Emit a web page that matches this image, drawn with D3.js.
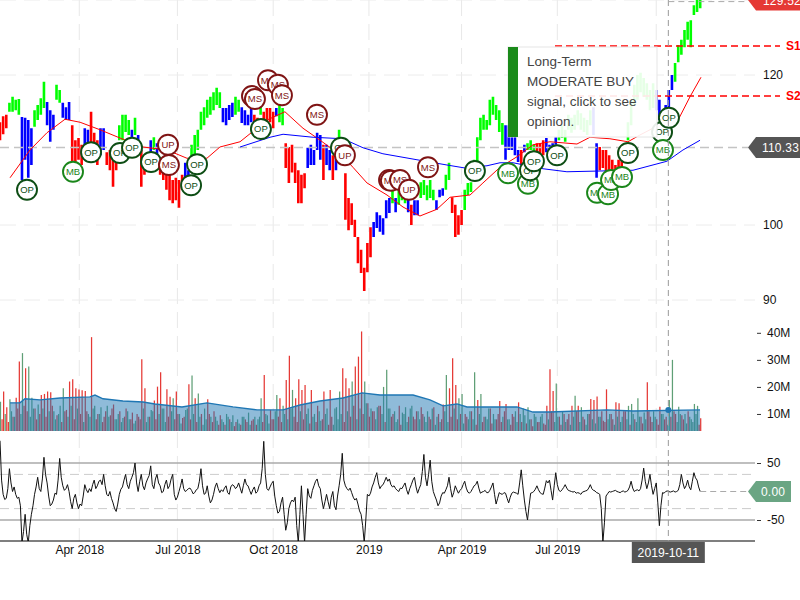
<!DOCTYPE html>
<html><head><meta charset="utf-8">
<script src="https://cdn.jsdelivr.net/npm/d3@7"></script>
<style>html,body{margin:0;padding:0;background:#fff}svg{display:block}text{font-family:"Liberation Sans",Arial,sans-serif}</style>
</head><body><svg id="c" width="800" height="600"></svg>
<script>
const priceHigh=[113.7,114.5,114.7,116.3,117.1,116.7,116.8,114.4,114.3,114,
112.9,115.3,116,116.9,119.1,116.4,115.3,114.7,118.7,118,
116.3,115.7,116.4,113.3,111.3,111.6,110.7,112.9,112.7,115.1,
112.3,111.3,112.9,112.9,109.7,110,110,110,113.3,114.7,
114.7,114,112.7,114.3,112,110,109.3,108.9,111.3,111.7,
110.9,108.7,108,107.3,106.7,106,106.3,106,106.7,108.3,
107.3,110.7,112,112.7,115.1,115.7,116.7,117.1,117.7,118.3,
117.7,115.6,115.6,116,116.3,117.1,116.7,115.7,115.3,114.7,
115.6,114.7,114.3,116,115.1,115.6,115.6,115.1,115.6,116,
115.6,110.9,110.4,110.7,108.3,107.3,106.7,106.9,110.3,110.7,
110,112.3,112,110.7,110.7,110,109.3,110,112.7,110,
106.9,103.6,102.9,100.7,98.4,96.7,94.3,97.6,99.7,100.4,
101.7,101.3,100.9,103.3,103.6,104.7,103.6,104.7,104.9,104.4,
103.7,102.7,103.3,103.3,105.7,106,105.3,106,104.7,103.3,
104.7,104.9,106.7,108.3,103.7,102.7,101.3,102,104.7,105.6,
105.7,108.7,111.7,114.3,114.7,114,116.7,117.1,116,115.3,
113.6,113.3,113.3,112.3,112,110,110,110.7,110.9,111.3,
110.7,110.9,110.9,111.3,111.6,110.7,110.9,111.7,112.7,113.3,
112.7,114.7,114.3,114.7,115.3,114.9,114.3,114,115.3,115.7,
110.9,110.4,110,110,109.3,108.7,108,108.7,108.7,110,
113.7,116.7,118.7,120,120.3,119.6,118.9,118,118.9,118,
116.7,114,116,118,120,121.6,124,124.7,126,127.1,
127.3,129.3,130,130];
const priceLow=[111.3,112.1,112.9,115.1,115.1,115.3,114.7,106,108.7,106.3,
108,113.1,114,114.7,115.6,113.3,111.1,112.7,116.7,116.3,
114.3,114,114,108,107.6,108.7,108,110,109.7,110.7,
110,108,109.3,110,108,107.3,105.1,107.3,111.3,111.3,
112.4,112,110,112,110,105.1,106.7,107.3,109.3,110,
109.3,106.7,106,104.7,103.3,102.9,103.3,102.3,104.7,105.1,
105.3,108.7,109.3,110,112.7,113.3,114.3,114.7,115.3,116,
115.6,113.7,113.3,114,114.4,114.7,115.1,113.6,113.3,113.3,
113.7,113.3,112.7,114.7,112.7,113.3,113.7,112.9,114.5,113.7,
113.3,107.6,105.6,107,105.6,102.9,102.9,104.9,107.6,108,
108,110,108.7,106,108,107.3,106,107.3,111.3,108,
100.7,99.3,100,98.4,94.9,93.6,91.2,93.7,95.7,98.4,
99.6,99.1,98.7,100.9,101.6,102.9,101.7,102.7,103.3,102.9,
101.7,100,101.3,101.3,103.6,104,103.3,103.6,103.3,102,
103.7,103.9,104.7,106,101.6,98.4,98.7,100,102,104,
104.4,106,107.3,111.3,112.7,112.7,113.3,114.7,114,112.4,
110.7,108.7,110,110,109.3,108.4,108,109.7,110,110,
108.9,109.3,109.3,109.3,109.7,109.3,110,110.7,111.3,111.6,
111.1,112.7,112.3,112.7,113.3,112.7,112.4,112,113.3,112,
106.3,107.3,107.6,106.3,106.7,106,105.6,106.7,107.6,108.9,
111.3,113.3,116,116.7,117.7,117.1,116.7,115.3,115.6,115.3,
114,112.7,113.3,115.7,118,119.1,121.7,122.7,123.7,124.7,
123.7,128,128.4,128.9];
const priceTrend=("rrrggggbbbbggggbbbggbbbrrrrbbrrrbbrrrrggggbgbrrrbgbrrrrrrrrbbggggggggg"+
"gbbbbggbbbbrrgrrrrbggrrrrrrrbbbbbrbbrbgrrrrrrrrrrbbbbbbgbgggbrbbgggggb"+
"bbggrrrrgggggggggggggbbbbbrbgggrrrbbbbgggggggggggbbrrrrrrrrbgggggggggbb"+
"gbbbggggggggggg").split("");
const volumeEven=[14.5,18.3,12.5,15.4,9,16,29.4,32.5,26.9,27.5,
16,12,13.5,17,17.4,18.3,18,11,9.5,13,
19.5,11.5,22,22.8,19.5,19,18.8,18.5,10,38.4,
13,10,12.5,9,13,9.5,13.5,8,11,8.5,
12,8,10.5,7.5,9,30.2,19.5,9,11.5,15,
20.1,25.4,12,19.1,16.4,15.8,18.3,10,8.5,11.5,
21,24.2,15.8,17.6,10,12,15.4,9,11,7.5,
9.5,7,10,8,9.5,7,6.5,9,8,10.5,
7.5,9,8,15.8,24.4,9.5,11.5,8,17,15.8,
13,22.6,31.5,18.9,15.8,22.8,18.9,20.7,12,18.9,
10,13,7.5,18.3,12,18.9,6,12.5,18.3,26.9,
23.2,19.5,22,27.5,31.2,40.5,22,14,12,11,
12.5,13,20,26.3,12,10,7,13,10.5,12.5,
9,13,8,11,12.5,9,11,8,12.5,9,
7,13.5,24.4,19.5,30.6,20.7,15.8,17.4,10,8,
11,25.4,15.2,17.4,9,8,12,10,8,14.8,
9,13.7,8,10,11,14.3,7,9.5,12.5,8,
10,7,9,6.5,13,26.5,18.5,21.3,9,11,
7,10,13,16.7,13,12.5,8,10,15.5,15.2,
16.5,9,7.5,19.1,10,8,14.3,14,9,11,
13,13.7,8,15.8,9,10.5,21.7,9,11,8,
12.7,10,9,15.2,30,10,12.7,9.5,10,11,
8,13.7,13,8.4];
const volumeEvenDir=("grrgrrrgrg"+"grgrrrrgrg"+"grrrrrrrgr"+"grgrgrrgrg"+"rgrgrrrggr"+"rrgrrgrgrg"+"rgrgrgrgrg"+"rggrgrggrg"+
"rgggrgrrgr"+"grrgrrrrgr"+"grgrgrgggr"+"rrgrrrgrgr"+"grgggrgrgg"+"rgrgrggrrg"+"grgrrrggrg"+"rgrgrgrgrr"+
"grgrgrrggr"+"grgrrrrgrg"+"grrgrgrgrr"+"rgrrgrrrgr"+"ggrgrgrrgr"+"rgrggrgrgr"+"gggr").split("");
const volumeOdd=[8,10,7,11,9,12,10,13,11,9,
12,8,10,12,9,11,13,8,10,7,
11,9,13,8,12,10,7,11,9,12,
8,10,7,11,9,12,8,10,7,9,
11,8,6.5,10,8,12,7,9,11,8,
10,12,7,9,11,8,10,6.5,9,12,
8,10,7,9,6,8,10,7,9,6,
8,6,9,7,5.5,8,6,9,7,6,
8,6,9,7,10,6.5,8,11,9,7,
10,8,12,9,7,11,8,10,6.5,9,
7,11,8,10,6,9,12,8,10,7,
11,9,13,8,12,10,14,9,11,8,
13,10,7,12,9,11,8,6,10,7,
12,9,11,8,10,7,9,12,6,10,
8,11,7,9,12,8,10,6.5,9,11,
8,6,10,7,9,12,6.5,8,10,7,
11,8,6,9,7,10,12,6.5,8,5.5,
9,7,10,6,8,11,7,9,6,10,
8,6,9,11,7,9,6,10,8,6.5,
9,11,7,8,10,6,9,7,11,8,
6,10,7,9,6.5,8,11,7,9,6,
10,8,6,9,11,7,10,8,6.5,9,
7,10,6];
const volumeOddDir=("rgrggrgrrg"+"grrgrgrggr"+"rggrgrgrgg"+"rgrrgrgggr"+"grgrrggrgr"+"gggrgrrgrg"+"rgrgggrrgr"+"grggrgrgrg"+
"rrgrggrgrr"+"gggrrgrgrg"+"rgrgrrgggr"+"grrggrgrrg"+"rgrgrggrgg"+"grrgrgrggr"+"rggrgrrgrg"+"grgrggrgrr"+
"rgrrgggrgr"+"grgrgrggrr"+"rggrgrgrgg"+"grrgrgggrg"+"rgggrgrrgr"+"grgrrggrgg"+"ggr").split("");
const oscEven=[89,-5,-12,40,0,-5,-10,-90,-40,-90,
-40,-5,25,0,60,15,-25,-15,-5,58,
10,5,0,-30,-5,-30,-25,12,-2,0,
20,10,20,30,-5,0,-20,-35,-5,8,
30,5,25,50,0,30,3,22,45,5,
30,10,0,20,10,30,-15,0,22,0,
5,2,-2,5,40,-5,10,-20,-5,15,
-2,0,10,-5,12,5,15,-3,22,10,
-5,8,0,15,88,5,8,18,-25,-35,
-10,-68,-30,-15,-10,-90,10,-90,5,-12,
10,22,5,-30,-5,-30,0,-32,10,67,
10,2,-2,-15,-22,-40,-90,-5,-3,15,
33,5,12,25,22,8,5,0,5,15,
-5,12,25,-3,12,65,10,55,0,-15,
-20,-2,3,25,-10,10,-3,5,18,-1,
0,10,18,-3,0,-2,2,15,-22,-2,
-5,-3,-20,-3,-2,-5,38,-15,-50,-3,
0,10,-2,-5,19,20,-15,33,2,3,
12,2,0,0,-2,-5,0,2,12,2,
-2,-5,-90,-8,0,0,2,-1,0,-1,
2,18,0,3,5,41,5,30,-5,15,
-60,-2,0,0,0,-1,2,30,5,20,
3,33,20,0];
const oscOdd=[20,-14,5,15,8,-12,-25,-70,-75,-60,
-25,8,5,22,30,-8,-22,-3,20,25,
2,12,-18,-12,-20,-22,-8,3,5,12,
5,18,12,10,-8,-12,-30,-22,4,20,
12,18,33,15,18,10,15,28,12,22,
15,-2,12,5,22,-5,-10,10,5,2,
6,-4,3,18,10,-3,-8,-15,8,5,
3,6,-2,8,10,8,6,10,12,2,
3,-3,10,40,30,2,14,-8,-38,-20,
-40,-55,-20,-18,-60,-40,-40,-40,-8,2,
18,10,-15,-18,-18,-10,-25,-8,30,20,
5,6,-10,-12,-34,-60,-50,-8,8,25,
15,10,18,18,12,10,2,6,10,3,
5,20,8,5,35,25,30,18,-8,-25,
-8,-3,10,5,-2,3,2,12,6,-3,
5,12,6,-1,2,-2,8,-5,-12,-4,
-2,-12,-10,-1,-3,15,10,-35,-25,-2,
4,3,-4,6,15,2,10,12,0,7,
6,1,-1,-3,-3,-1,1,6,5,1,
-3,-30,-55,-4,-1,1,0,-2,1,0,
8,6,2,1,20,18,15,10,5,-20,
-25,-3,1,-1,1,0,12,15,10,8,
18,24,8];
const ma50Days=[6.4,19.1,29.9,41.4,51,63.7,76.4,91.1,106.4,119.1,131.8,140.1,152.9,170.1,181.5,193,201.9,218.5,224.8,233.8,246.5,256.7,267.5,278.3,286.6,299.4,307.6,318.5,329.3,339.5,350.3,367.5,375.8,388.5,400,407.6,415.9,431.2,439.5,446.5];
const ma50Values=[106.3,110,112.3,114.1,113.7,112.7,111.6,110.4,110,108.9,108.9,110.4,111.1,114,115.1,112.9,111.6,109.1,107.7,105.6,104,102.4,101.2,102.1,103.7,104,105.6,107.7,109.1,110.7,111.1,110.8,111.7,111.5,111.1,112,112.9,113.7,117.1,119.7];
const ma200Days=[152.9,172,180.3,199.4,218.5,231.2,243.9,265.6,284.7,296.2,310.2,318.5,326.8,345.9,361.1,382.2,403.2,424.8,435,445.9];
const ma200Values=[110.4,111.7,112.1,111.7,111.5,110.3,109.5,108.7,108,107.6,107.9,108.3,108.3,107.5,107.1,107.2,107.3,108.5,110,111.3];
const volMaDays=[6.4,12.7,15.9,25.5,38.2,57.3,60.5,65.6,78.3,91.1,98.7,115.9,131.8,148.4,163.7,180.3,191.1,203.8,218.5,230.6,242,254.8,263.1,273.9,282.2,291.1,297.5,318.5,329.3,339.5,350.3,386.6,403.2,445.9];
const volMaValues=[14.1,14.1,15.6,15.2,15.9,16.3,17,15.6,14.8,14.4,13.7,12.6,14.1,12.6,11.5,11.5,13.3,14.8,15.9,17.8,17,17,17,15.2,13,13.7,12.6,12.6,12.6,10.7,10.7,11.5,11.1,11.5];
const signalDays=[17.2,46.5,58,76.4,84.1,96.2,107,107.6,121.7,125.5,166.2,160.5,162.4,170.7,177,179.6,201.9,217.2,219.7,247.8,249,254.8,260.5,272.6,302.5,323.6,336.3,337.6,340.1,354.8,380.3,387.3,389.2,396.2,400,421.7,422.3,426.1];
const signalPrices=[104.7,107.1,109.7,109.6,110.3,108.4,110.7,108,105.3,108.1,112.8,117.2,116.8,119.3,118.7,117.3,114.7,110.3,109.3,106,105.9,106,104.7,107.7,107.2,106.9,105.5,107.3,108.5,109.3,104.3,104.1,106,106.4,109.6,112.4,110,114.3];
const signalTypes=["OP","MB","OP","OP","OP","OP","UP","MS","OP","OP","OP","MS","MS","MS","MS","MS","MS","OP","UP","MS","MS","MS","UP","MS","OP","MB","MB","OP","OP","OP","MB","MB","MB","MB","OP","OP","MB","OP"];
const gridDays=[50.5,113,174,235,294,355,418];
const tickDays=[50.5,113,174,235,294,355];
const tickLabels=["Apr 2018","Jul 2018","Oct 2018","2019","Apr 2019","Jul 2019"];
const priceTicks=[90,100,110,120];
const volumeTicks=[10,20,30,40];
const oscTicks=[-50,50];
const oscGuides=[-30,30];
const supportNames=["S1","S2"];
const supportValues=[123.87,117.2];
const lastPrice=129.52, markPrice=110.33, lastOsc=0, crossDay=425.7;
const crossLabel="2019-10-11";
const tipLines=["Long-Term","MODERATE BUY","signal, click to see","opinion."];

const svg=d3.select("#c");
const x=d3.scaleLinear().domain([0,446]).range([0,700.2]);
const yP=d3.scaleLinear().domain([90,130]).range([300,0]);
const yV=d3.scaleLinear().domain([3.7,40.3]).range([431,332]);
const yO=d3.scaleLinear().domain([-50,50]).range([520,463]);
const trendColor={r:"#ff0000",g:"#00ff00",b:"#0000ff"};
const dirColor={r:"#e53935",g:"#5f9f76"};
const sigStyle={OP:"#0d4d14",MB:"#1a861a",MS:"#7f1414",UP:"#7f1414"};
const R=755;

const oscDaily=oscEven.flatMap((v,i)=>i<oscOdd.length?[v,oscOdd[i]]:[v]);
const volDaily=[...volumeEven.map((v,i)=>({day:i*2,v,c:volumeEvenDir[i]})),...volumeOdd.map((v,i)=>({day:i*2+1,v,c:volumeOddDir[i]}))];

svg.append("clipPath").attr("id","oc").append("rect").attr("x",0).attr("y",440).attr("width",R).attr("height",101);

// grid
svg.append("g").selectAll("line").data(gridDays).join("line")
 .attr("x1",d=>x(d)).attr("x2",d=>x(d)).attr("y1",0).attr("y2",541)
 .attr("stroke","#e8e8e8").attr("stroke-dasharray","16,8");
svg.append("g").selectAll("line").data([90,100,120,130]).join("line")
 .attr("x1",0).attr("x2",R).attr("y1",d=>yP(d)).attr("y2",d=>yP(d))
 .attr("stroke","#ececec").attr("stroke-dasharray","16,8");

// price bars
svg.append("g").selectAll("line").data(priceHigh).join("line")
 .attr("x1",(d,i)=>x(i*2)).attr("x2",(d,i)=>x(i*2))
 .attr("y1",d=>yP(d)).attr("y2",(d,i)=>yP(priceLow[i]))
 .attr("stroke",(d,i)=>trendColor[priceTrend[i]]).attr("stroke-width",2.6);

// mark price guide
svg.append("line").attr("x1",0).attr("x2",748).attr("y1",yP(markPrice)).attr("y2",yP(markPrice))
 .attr("stroke","#c4c4c4").attr("stroke-width",1.5).attr("stroke-dasharray","9,5");

// moving averages
const ln=d3.line().x(d=>x(d[0])).y(d=>yP(d[1]));
svg.append("path").attr("d",ln(d3.zip(ma50Days,ma50Values))).attr("fill","none").attr("stroke","#ff0000").attr("stroke-width",1);
svg.append("path").attr("d",ln(d3.zip(ma200Days,ma200Values))).attr("fill","none").attr("stroke","#0000ff").attr("stroke-width",1);

// supports
svg.append("g").selectAll("line").data(supportValues).join("line")
 .attr("x1",555).attr("x2",780).attr("y1",d=>yP(d)).attr("y2",d=>yP(d))
 .attr("stroke","#ff0000").attr("stroke-width",1.3).attr("stroke-dasharray","7,4");
svg.append("g").selectAll("text").data(supportValues).join("text")
 .attr("x",786).attr("y",d=>yP(d)+4).attr("font-size",12).attr("font-weight","bold").attr("fill","#ff0000")
 .text((d,i)=>supportNames[i]);

// volume
svg.append("g").selectAll("line").data(volDaily).join("line")
 .attr("x1",d=>x(d.day)+.5).attr("x2",d=>x(d.day)+.5).attr("y1",431).attr("y2",d=>yV(d.v))
 .attr("stroke",d=>dirColor[d.c]).attr("stroke-width",1.25);
svg.append("path").attr("d",d3.area().x(d=>x(d[0])).y0(431).y1(d=>yV(d[1]))(d3.zip(volMaDays,volMaValues)))
 .attr("fill","#1f77b4").attr("fill-opacity",.5);
svg.append("path").attr("d",d3.line().x(d=>x(d[0])).y(d=>yV(d[1]))(d3.zip(volMaDays,volMaValues)))
 .attr("fill","none").attr("stroke","#1f77b4").attr("stroke-width",1.4);

// oscillator guides
svg.append("g").selectAll("line").data(oscTicks).join("line")
 .attr("x1",0).attr("x2",R).attr("y1",d=>yO(d)).attr("y2",d=>yO(d)).attr("stroke","#aaaaaa").attr("stroke-width",1.5);
svg.append("g").selectAll("line").data(oscGuides).join("line")
 .attr("x1",0).attr("x2",R).attr("y1",d=>yO(d)).attr("y2",d=>yO(d)).attr("stroke","#cccccc").attr("stroke-dasharray","9,5");
svg.append("path").attr("clip-path","url(#oc)")
 .attr("d",d3.line().x((d,i)=>x(i)).y(d=>yO(d))(oscDaily))
 .attr("fill","none").attr("stroke","#111").attr("stroke-width",1);
svg.append("line").attr("x1",x(446)).attr("x2",748).attr("y1",yO(lastOsc)).attr("y2",yO(lastOsc))
 .attr("stroke","#aaa").attr("stroke-dasharray","6,4");

// x axis
const xAxis=d3.axisBottom(x).tickValues(tickDays).tickSize(0).tickPadding(4)
 .tickFormat((d,i)=>tickLabels[i]);
const gx=svg.append("g").attr("transform","translate(0,541)").call(xAxis);
gx.select(".domain").attr("d","M0,0H"+R).attr("stroke","#000").attr("stroke-width",1.2);
gx.selectAll("text").attr("font-size",12).attr("fill","#111").attr("font-family",'"Liberation Sans"');

// right axes
const axisStyle=g=>{g.select(".domain").remove();g.selectAll("text").attr("font-size",12).attr("fill","#111").attr("font-family",'"Liberation Sans"');g.selectAll("line").attr("stroke","#333");};
svg.append("g").attr("transform","translate(760,0)").call(d3.axisRight(yP).tickValues(priceTicks).tickSize(0).tickPadding(3)).call(axisStyle);
svg.append("g").attr("transform","translate(757,0)").call(d3.axisRight(yV).tickValues(volumeTicks).tickSize(4).tickPadding(6).tickFormat(d=>d+"M")).call(axisStyle);
svg.append("g").attr("transform","translate(757,0)").call(d3.axisRight(yO).tickValues(oscTicks).tickSize(4).tickPadding(6).tickFormat(d=>String(d))).call(axisStyle);

// signals
const sg=svg.append("g").selectAll("g").data(signalDays).join("g")
 .attr("transform",(d,i)=>`translate(${x(d)},${yP(signalPrices[i])})`);
sg.append("circle").attr("r",10).attr("fill","#fff").attr("stroke",(d,i)=>sigStyle[signalTypes[i]]).attr("stroke-width",1.9);
sg.append("text").attr("text-anchor","middle").attr("y",3.4).attr("font-size",9.5)
 .attr("fill",(d,i)=>sigStyle[signalTypes[i]]).text((d,i)=>signalTypes[i]);

// crosshair
svg.append("line").attr("x1",x(crossDay)).attr("x2",x(crossDay)).attr("y1",0).attr("y2",541)
 .attr("stroke","#999").attr("stroke-dasharray","6,4");
svg.append("line").attr("x1",x(crossDay)).attr("x2",748).attr("y1",yP(lastPrice)-2).attr("y2",yP(lastPrice)-2)
 .attr("stroke","#aaa").attr("stroke-dasharray","6,4");
svg.append("circle").attr("cx",x(crossDay)).attr("cy",yV(11.5)).attr("r",3).attr("fill","#1f77b4");
const cg=svg.append("g").attr("transform",`translate(${x(crossDay)},552.5)`);
cg.append("rect").attr("x",-36.5).attr("y",-10.5).attr("width",73).attr("height",21).attr("fill","#555");
cg.append("text").attr("text-anchor","middle").attr("y",4.5).attr("font-size",12.2).attr("fill","#fff").text(crossLabel);

// tags
function tag(yc,fill,label,right,tx){
 const h=10.5;
 svg.append("path").attr("d",`M748,${yc}L756,${yc-h}H${right}V${yc+h}H756Z`).attr("fill",fill);
 svg.append("text").attr("x",tx).attr("y",yc+4.5).attr("font-size",12).attr("fill","#fff").attr("letter-spacing",.2).text(label);
}
tag(yP(markPrice),"#555555",markPrice.toFixed(2),800,762);
tag(yP(lastPrice)-3.5,"#e53935",lastPrice.toFixed(2),800,763);
tag(yO(lastOsc),"#6aa583",lastOsc.toFixed(2),791,761);

// tooltip
const tip=svg.append("g");
tip.append("rect").attr("x",508).attr("y",47).attr("width",149).attr("height",90).attr("fill","#fff").attr("fill-opacity",.9).attr("stroke","#e6e6e6");
tip.append("rect").attr("x",508).attr("y",47).attr("width",10).attr("height",90).attr("fill","#1a8a1a");
tip.selectAll("text").data(tipLines).join("text").attr("x",527).attr("y",(d,i)=>66+i*20).attr("font-size",13.5).attr("fill","#444").text(d=>d);
</script></body></html>
